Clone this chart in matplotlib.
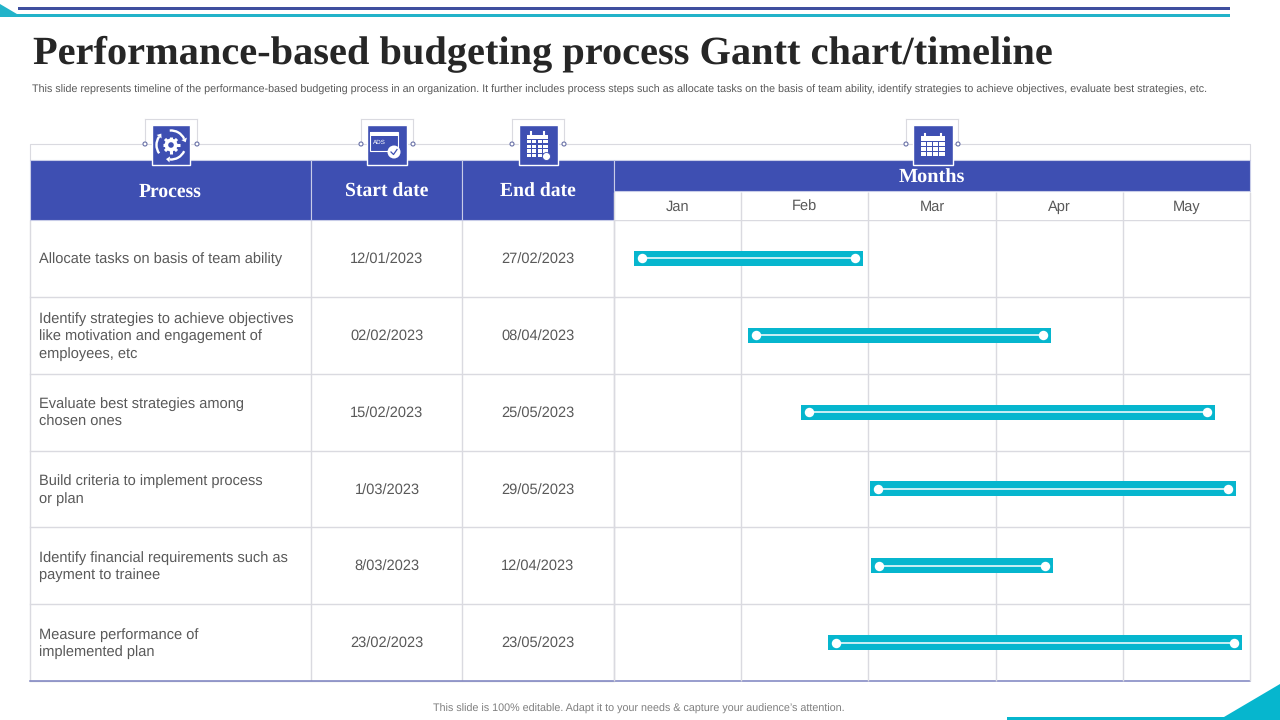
import math

import matplotlib
matplotlib.use('Agg')
import matplotlib.pyplot as plt
from matplotlib.patches import Rectangle, Polygon, Circle, Arc

plt.rcParams['text.hinting'] = 'no_hinting'
plt.rcParams['text.hinting_factor'] = 8

TITLE = "Performance-based budgeting process Gantt chart/timeline"
SUBTITLE = ("This slide represents timeline of the performance-based budgeting process in an organization. "
            "It further includes process steps such as allocate tasks on the basis of team ability, "
            "identify strategies to achieve objectives, evaluate best strategies, etc.")
FOOTER = "This slide is 100% editable. Adapt it to your needs & capture your audience\u2019s attention."

headers = ["Process", "Start date", "End date"]
months = ["Jan", "Feb", "Mar", "Apr", "May"]
processes = [
    "Allocate tasks on basis of team ability",
    "Identify strategies to achieve objectives\nlike motivation and engagement of\nemployees, etc",
    "Evaluate best strategies among\nchosen ones",
    "Build criteria to implement process\nor plan",
    "Identify financial requirements such as\npayment to trainee",
    "Measure performance of\nimplemented plan",
]
start_dates = ["12/01/2023", "02/02/2023", "15/02/2023", "1/03/2023", "8/03/2023", "23/02/2023"]
end_dates = ["27/02/2023", "08/04/2023", "25/05/2023", "29/05/2023", "12/04/2023", "23/05/2023"]
# bar ends, in months since the start of Jan
bar_start = [0.157, 1.053, 1.470, 2.013, 2.020, 1.682]
bar_end = [1.958, 3.436, 4.725, 4.890, 3.451, 4.937]

BLUE = '#3E4FB2'
TEAL = '#06B6CE'
GRID = '#DADAE0'
TEXT = '#595959'
SERIF = 'Liberation Serif'
SANS = 'Liberation Sans'
BODY_SIZE = 14.6

COL_X = [30, 311, 462, 614, 1250]
ROW_TOP, ROW_BOTTOM = 220, 681


def px(size):
    """ Font size in points for a size in pixels at 100 dpi. """
    return size * 0.72


def draw_gear_icon(ax, cx, cy):
    for k in range(8):
        a = k * math.pi / 4
        ax.plot([cx + 4 * math.cos(a), cx + 8.5 * math.cos(a)],
                [cy + 4 * math.sin(a), cy + 8.5 * math.sin(a)],
                color='white', lw=2.2, solid_capstyle='butt', zorder=6)
    ax.add_patch(Circle((cx, cy), 6.5, color='white', lw=0, zorder=6))
    ax.add_patch(Circle((cx, cy), 2.8, color=BLUE, lw=0, zorder=7))
    for a, b in [(25, 95), (145, 215), (265, 335)]:
        ax.add_patch(Arc((cx, cy), 29, 29, theta1=a, theta2=b, color='white', lw=1.7, zorder=6))
        t = math.radians(b)
        tip = (cx + 14.5 * math.cos(t - 0.05), cy + 14.5 * math.sin(t - 0.05))
        ax.add_patch(Polygon([(cx + 11.5 * math.cos(t), cy + 11.5 * math.sin(t)),
                              (cx + 17.5 * math.cos(t), cy + 17.5 * math.sin(t)),
                              (tip[0] + 4.5 * math.cos(t + math.pi / 2), tip[1] + 4.5 * math.sin(t + math.pi / 2))],
                             color='white', lw=0, zorder=6))


def draw_ads_icon(ax, cx, cy):
    ax.add_patch(Rectangle((cx - 17, cy - 13), 28, 19, fc='none', ec='white', lw=0.8, zorder=6))
    ax.add_patch(Rectangle((cx - 17, cy - 13), 28, 4, color='white', lw=0, zorder=6))
    ax.text(cx - 14, cy - 3, "ADS", color='white', fontsize=4.5, family=SANS, va='center', zorder=6)
    ax.add_patch(Circle((cx + 7, cy + 7), 6.5, color='white', lw=0, zorder=7))
    ax.plot([cx + 4, cx + 6.5, cx + 10], [cy + 7, cy + 9.5, cy + 4.5], color=BLUE, lw=0.9, zorder=8)


def draw_calendar_icon(ax, cx, cy, w, h, nx, ny, badge=False):
    x0, y0 = cx - w / 2, cy - h / 2
    ax.add_patch(Rectangle((x0, y0), w, 4.5, color='white', lw=0, zorder=6))
    for tx in (x0 + 4, x0 + w - 4):
        ax.plot([tx, tx], [y0 - 2.5, y0 + 1], color='white', lw=1.5, zorder=7)
    gap = 1.2
    cw = (w - gap * (nx - 1)) / nx
    ch = (h - 5.5 - gap * (ny - 1)) / ny
    for i in range(nx):
        for j in range(ny):
            ax.add_patch(Rectangle((x0 + i * (cw + gap), y0 + 5.5 + j * (ch + gap)), cw, ch,
                                   color='white', lw=0, zorder=6))
    if badge:
        ax.add_patch(Circle((x0 + w - 1, y0 + h - 1), 4, fc='white', ec=BLUE, lw=0.6, zorder=7))


def draw_icon_frame(ax, left, right, square_left, square_right):
    for x in (left, right):
        ax.plot([x, x], [119, 144], color=GRID, lw=0.8, zorder=3)
    ax.plot([left, right], [119, 119], color=GRID, lw=0.8, zorder=3)
    ax.add_patch(Rectangle((square_left, 125), square_right - square_left, 40,
                           fc=BLUE, ec='white', lw=1, zorder=5))
    for x in (left, right):
        ax.add_patch(Circle((x, 144), 2, fc='white', ec='#6A72A8', lw=0.8, zorder=6))


def draw_page(ax):
    ## Slide decoration
    ax.add_patch(Rectangle((18, 7), 1212, 3, color='#3F4F9F', lw=0))
    ax.add_patch(Rectangle((0, 14), 1230, 3, color='#22B3C9', lw=0))
    ax.add_patch(Polygon([(0, 4), (22, 17), (0, 17)], color='#22B3C9', lw=0))
    ax.add_patch(Rectangle((1007, 717), 273, 3, color=TEAL, lw=0))
    ax.add_patch(Polygon([(1224, 717), (1280, 684), (1280, 720)], color=TEAL, lw=0))

    ## Texts
    ax.text(33, 54.5, TITLE, fontsize=px(40.4), family=SERIF, weight='bold', color='#262626', va='center')
    ax.text(32, 90, SUBTITLE, fontsize=px(10.75), family=SANS, color=TEXT, va='center')
    ax.text(639, 708.5, FOOTER, fontsize=px(10.75), family=SANS, color='#7F7F7F', ha='center', va='center')

    ## Frame above the header
    ax.plot([30, 30, 1250, 1250], [160, 144, 144, 160], color=GRID, lw=0.8, zorder=1)


def draw_table(ax):
    ## Header cells
    for i, name in enumerate(headers):
        ax.add_patch(Rectangle((COL_X[i], 160), COL_X[i + 1] - COL_X[i], ROW_TOP - 160,
                               fc=BLUE, ec='#C8CCE8', lw=0.8, zorder=2))
        ax.text((COL_X[i] + COL_X[i + 1]) / 2, 191.5, name, color='white', fontsize=px(19.6),
                family=SERIF, weight='bold', ha='center', va='center', zorder=4)
    ax.add_patch(Rectangle((COL_X[3], 160), COL_X[4] - COL_X[3], 31,
                           fc=BLUE, ec='#C8CCE8', lw=0.8, zorder=2))
    ax.text(932, 178, "Months", color='white', fontsize=px(20.3), family=SERIF, weight='bold',
            ha='center', va='center', zorder=6)

    ## Body grid and text
    row_h = (ROW_BOTTOM - ROW_TOP) / len(processes)
    for x in COL_X[:4]:
        ax.plot([x, x], [ROW_TOP, ROW_BOTTOM], color=GRID, lw=1, zorder=1, solid_capstyle='butt')
    for i in range(len(processes)):
        y = ROW_TOP + row_h * (i + 0.5)
        ax.plot([30, 614], [ROW_TOP + row_h * (i + 1)] * 2, color=GRID, lw=1, zorder=1)
        ax.text(39, y + 1, processes[i], color=TEXT, fontsize=px(BODY_SIZE), family=SANS, va='center',
                linespacing=1.32)
        ax.text(387, y + 1.6, start_dates[i], color=TEXT, fontsize=px(BODY_SIZE), family=SANS,
                ha='center', va='center')
        ax.text(538, y + 1.6, end_dates[i], color=TEXT, fontsize=px(BODY_SIZE), family=SANS,
                ha='center', va='center')
    ax.plot([30, 1250], [ROW_BOTTOM, ROW_BOTTOM], color='#7C82C0', lw=1.1, zorder=4)


def draw_gantt(ax):
    ax.set_xlim(0, len(months))
    ax.set_ylim(len(processes), 0)
    ax.axis('off')
    ax.patch.set_alpha(0)

    ## Grid
    for x in range(len(months) + 1):
        ax.plot([x, x], [-0.37, len(processes)], color=GRID, lw=1, zorder=1, clip_on=False,
                solid_capstyle='butt')
    for y in range(len(processes)):
        ax.axhline(y, color=GRID, lw=1, zorder=1)
    for i, name in enumerate(months):
        ax.text(i + 0.5, -0.115, name, color=TEXT, fontsize=px(BODY_SIZE), family=SANS,
                ha='center', va='baseline')

    ## Bars
    y_pos = [i + 0.5 for i in range(len(processes))]
    widths = [e - s for s, e in zip(bar_start, bar_end)]
    ax.barh(y_pos, widths, left=bar_start, height=0.195, color=TEAL, zorder=2)
    inset = 0.06
    for y, s, e in zip(y_pos, bar_start, bar_end):
        ax.plot([s + inset, e - inset], [y, y], color='white', lw=1.1,
                marker='o', ms=6.8, mew=0, zorder=3, solid_capstyle='butt')


def main():
    fig = plt.figure(figsize=(12.8, 7.2), dpi=100, facecolor='white')

    page = fig.add_axes((0, 0, 1, 1))
    page.set_xlim(0, 1280)
    page.set_ylim(720, 0)
    page.axis('off')
    draw_page(page)
    draw_table(page)

    gantt = fig.add_axes((614 / 1280, 1 - ROW_BOTTOM / 720, 636 / 1280, (ROW_BOTTOM - ROW_TOP) / 720))
    draw_gantt(gantt)

    ## Icons go on their own layer so they sit over the header
    icons = fig.add_axes((0, 0, 1, 1))
    icons.set_xlim(0, 1280)
    icons.set_ylim(720, 0)
    icons.axis('off')
    icons.patch.set_alpha(0)
    draw_icon_frame(icons, 145, 197, 152, 190)
    draw_gear_icon(icons, 171, 145)
    draw_icon_frame(icons, 361, 413, 367, 407)
    draw_ads_icon(icons, 387, 145)
    draw_icon_frame(icons, 512, 564, 519, 558)
    draw_calendar_icon(icons, 537, 146, 21, 23, 4, 4, badge=True)
    draw_icon_frame(icons, 906, 958, 913, 953)
    draw_calendar_icon(icons, 932.5, 146, 24, 20, 4, 3)

    fig.savefig('out.png', dpi=100)


main()
